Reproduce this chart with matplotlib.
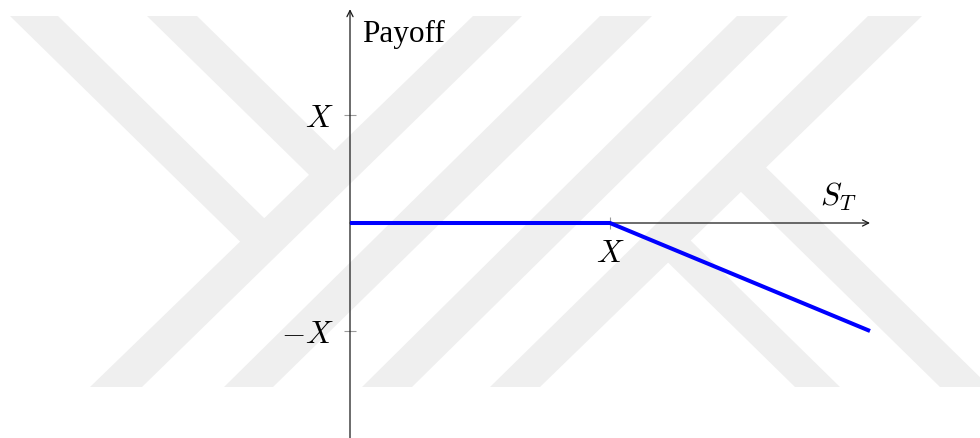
import matplotlib
matplotlib.use("Agg")
import matplotlib.pyplot as plt
from matplotlib.patches import Polygon

plt.rcParams["mathtext.fontset"] = "cm"
plt.rcParams["font.family"] = ["Liberation Serif", "DejaVu Serif"]

# Short call payoff, in units of the strike X
spot = [0.0, 1.0, 2.0]
payoff = [0.0, 0.0, -1.0]
xtick_vals = [1.0]
xtick_labels = ["$X$"]
ytick_vals = [1.0, -1.0]
ytick_labels = ["$X$", "$-X$"]

W, H = 980, 439
fig = plt.figure(figsize=(W / 100, H / 100), dpi=100)

# ---- background emblem: light grey diagonal bands (pixel layout, top-left origin)
WM_TOP, WM_BOT = 17, 388
WM_COLOR = "#efefef"
K = 1.02  # horizontal run per pixel of drop for the "\" bands
slashes = [((90, 142), (473, 522)),
           ((224, 273), (600, 652)),
           ((362, 412), (737, 788)),
           ((490, 540), (868, 922))]
top_branches = [(10, 58), (147, 197)]     # join the first "/" band
bottom_branches = [(795, 840), (940, 990)]  # join the last "/" band


def to_fig(x, y):
    return (x / W, 1 - y / H)


def band(points):
    fig.patches.append(Polygon([to_fig(*p) for p in points], closed=True,
                               transform=fig.transFigure, facecolor=WM_COLOR,
                               edgecolor="none", zorder=-10))


def centre_line(s):
    (b0, b1), (t0, t1) = s
    cb, ct = (b0 + b1) / 2, (t0 + t1) / 2
    ks = (ct - cb) / (WM_BOT - WM_TOP)
    return cb, ks


for (b0, b1), (t0, t1) in slashes:
    band([(b0, WM_BOT), (b1, WM_BOT), (t1, WM_TOP), (t0, WM_TOP)])

cb, ks = centre_line(slashes[0])
for x0, x1 in top_branches:
    pts = []
    for xe in (x0, x1):
        y = (cb + WM_BOT * ks - xe + WM_TOP * K) / (K + ks)
        pts.append((xe + (y - WM_TOP) * K, y))
    band([(x0, WM_TOP), (x1, WM_TOP), pts[1], pts[0]])

cb, ks = centre_line(slashes[3])
for x0, x1 in bottom_branches:
    pts = []
    for xe in (x0, x1):
        d = (xe - cb) / (K + ks)
        pts.append((xe - d * K, WM_BOT - d))
    band([(x0, WM_BOT), (x1, WM_BOT), pts[1], pts[0]])

# ---- payoff axes
ax = fig.add_axes([0, 0, 1, 1])
ax.set_facecolor("none")
ax.set_xlim(-350 / 260, (W - 350) / 260)
ax.set_ylim((224 - H) / 108, 224 / 108)

for s in ("top", "right"):
    ax.spines[s].set_visible(False)
ax.spines["left"].set_position(("data", 0))
ax.spines["bottom"].set_position(("data", 0))
ax.spines["left"].set_color("none")
ax.spines["bottom"].set_color("none")

arrow = dict(arrowstyle="->", lw=0.9, color="#1a1a1a", shrinkA=0, shrinkB=0,
             mutation_scale=11)
ax.annotate("", xy=(0, 1.98), xytext=(0, ax.get_ylim()[0] - 0.1),
            arrowprops=arrow, zorder=2)
ax.annotate("", xy=(2.0, 0), xytext=(0, 0), arrowprops=arrow, zorder=2)

ax.set_xticks(xtick_vals, xtick_labels)
ax.set_yticks(ytick_vals, ytick_labels)
ax.tick_params(axis="both", direction="inout", length=9, width=0.8,
               color="#9a9a9a", labelsize=22.5, pad=7)

ax.plot(spot, payoff, color="#0000ff", lw=2.9, solid_capstyle="butt",
        solid_joinstyle="miter", zorder=3)

ax.text(0.046, 1.685, "Payoff", ha="left", va="baseline", fontsize=22.5)
ax.text(1.95, 0.10, "$S_T$", ha="right", va="bottom", fontsize=22.5)

fig.savefig("out.png", dpi=100)
